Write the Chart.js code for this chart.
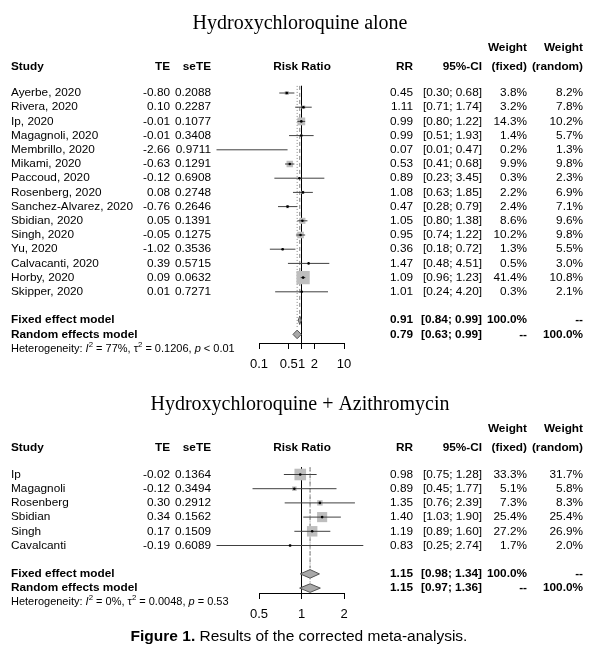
<!DOCTYPE html>
<html><head><meta charset="utf-8">
<script src="https://cdn.jsdelivr.net/npm/chart.js@4"></script>
<style>
html,body{margin:0;padding:0;background:#fff;overflow:hidden;width:604px;height:653px}
canvas{position:absolute;left:0}
#c1{top:0}#c2{top:385px}
</style></head>
<body>
<canvas id="c1" width="604" height="385"></canvas>
<canvas id="c2" width="604" height="268"></canvas>
<script>
// ---------- Panel 1: Hydroxychloroquine alone ----------
const title1 = "Hydroxychloroquine alone";
const study1 = ["Ayerbe, 2020","Rivera, 2020","Ip, 2020","Magagnoli, 2020","Membrillo, 2020","Mikami, 2020","Paccoud, 2020","Rosenberg, 2020","Sanchez-Alvarez, 2020","Sbidian, 2020","Singh, 2020","Yu, 2020","Calvacanti, 2020","Horby, 2020","Skipper, 2020"];
const te1 = [-0.80,0.10,-0.01,-0.01,-2.66,-0.63,-0.12,0.08,-0.76,0.05,-0.05,-1.02,0.39,0.09,0.01];
const sete1 = [0.2088,0.2287,0.1077,0.3408,0.9711,0.1291,0.6908,0.2748,0.2646,0.1391,0.1275,0.3536,0.5715,0.0632,0.7271];
const rr1 = [0.45,1.11,0.99,0.99,0.07,0.53,0.89,1.08,0.47,1.05,0.95,0.36,1.47,1.09,1.01];
const lo1 = [0.30,0.71,0.80,0.51,0.01,0.41,0.23,0.63,0.28,0.80,0.74,0.18,0.48,0.96,0.24];
const hi1 = [0.68,1.74,1.22,1.93,0.47,0.68,3.45,1.85,0.79,1.38,1.22,0.72,4.51,1.23,4.20];
const wf1 = [3.8,3.2,14.3,1.4,0.2,9.9,0.3,2.2,2.4,8.6,10.2,1.3,0.5,41.4,0.3];
const wr1 = [8.2,7.8,10.2,5.7,1.3,9.8,2.3,6.9,7.1,9.6,9.8,5.5,3.0,10.8,2.1];
const fixed1 = [0.91,0.84,0.99];   // RR, lower, upper
const random1 = [0.79,0.63,0.99];
const het1 = {I2:"77%", tau2:"0.1206", p:"< 0.01"};
const ticks1 = [0.1,0.5,1,2,10];
const tickLabels1 = ["0.1","0.5","1","2","10"];

// ---------- Panel 2: Hydroxychloroquine + Azithromycin ----------
const title2 = "Hydroxychloroquine + Azithromycin";
const study2 = ["Ip","Magagnoli","Rosenberg","Sbidian","Singh","Cavalcanti"];
const te2 = [-0.02,-0.12,0.30,0.34,0.17,-0.19];
const sete2 = [0.1364,0.3494,0.2912,0.1562,0.1509,0.6089];
const rr2 = [0.98,0.89,1.35,1.40,1.19,0.83];
const lo2 = [0.75,0.45,0.76,1.03,0.89,0.25];
const hi2 = [1.28,1.77,2.39,1.90,1.60,2.74];
const wf2 = [33.3,5.1,7.3,25.4,27.2,1.7];
const wr2 = [31.7,5.8,8.3,25.4,26.9,2.0];
const fixed2 = [1.15,0.98,1.34];
const random2 = [1.15,0.97,1.36];
const het2 = {I2:"0%", tau2:"0.0048", p:"= 0.53"};
const ticks2 = [0.5,1,2];
const tickLabels2 = ["0.5","1","2"];

const captionBold = "Figure 1.";
const captionText = " Results of the corrected meta-analysis.";

// ---------- drawing ----------
const SANS = '"Liberation Sans", Arial, Helvetica, sans-serif';
const SERIF = '"Liberation Serif", "Times New Roman", serif';
const FS = 11.8;
const COL = {study:11, te:170, sete:211, rr:413, ci:482, wf:527, wr:583, plot:302};
const AXH = 31;

function t(ctx, s, x, y, align, font){
  ctx.font = font; ctx.textAlign = align; ctx.textBaseline = 'middle';
  ctx.fillStyle = '#000'; ctx.fillText(s, x, y);
}

function makePanel(id, P){
  const n = P.study.length;
  const wmax = Math.max(...P.wf);
  const ds = [];
  ds.push({data:P.rr.map((r,i)=>({x:r,y:i})), pointStyle:'circle', pointRadius:1.3,
    backgroundColor:'#000', borderWidth:0, order:0, clip:false});
  P.lo.forEach((l,i)=>ds.push({data:[{x:l,y:i},{x:P.hi[i],y:i}], showLine:true,
    borderColor:'#404040', borderWidth:1, pointRadius:0, order:1, clip:false}));
  ds.push({data:P.rr.map((r,i)=>({x:r,y:i})), pointStyle:'rect',
    pointRadius:P.wf.map(w=>Math.max(0.6, P.sq*Math.sqrt(w/wmax))),
    backgroundColor:'#BEBEBE', borderWidth:0, order:2, clip:false});
  ds.push({data:[{x:1,y:-0.5},{x:1,y:P.yMax}], showLine:true, borderColor:'#000',
    borderWidth:1, pointRadius:0, order:3, clip:false});
  ds.push({data:[{x:P.fixed[0],y:-0.5},{x:P.fixed[0],y:n+0.6}], showLine:true, borderColor:'#808080',
    borderWidth:1, borderDash:[4,3], pointRadius:0, order:4, clip:false});
  ds.push({data:[{x:P.random[0],y:-0.5},{x:P.random[0],y:n+1.6}], showLine:true, borderColor:'#808080',
    borderWidth:1, borderDash:[1,2], pointRadius:0, order:5, clip:false});

  const tablePlugin = {
    id:'table'+id,
    afterDatasetsDraw(chart){
      const ctx = chart.ctx, xs = chart.scales.x, ys = chart.scales.y;
      [[P.fixed,n+1],[P.random,n+2]].forEach(([s,r])=>{
        const xl = xs.getPixelForValue(s[1]), xm = xs.getPixelForValue(s[0]), xh = xs.getPixelForValue(s[2]);
        const y = ys.getPixelForValue(r);
        ctx.save(); ctx.beginPath();
        ctx.moveTo(xl,y); ctx.lineTo(xm,y-4.3); ctx.lineTo(xh,y); ctx.lineTo(xm,y+4.3); ctx.closePath();
        ctx.fillStyle='#A9A9A9'; ctx.fill(); ctx.strokeStyle='#555'; ctx.lineWidth=1; ctx.stroke();
        ctx.restore();
      });
    },
    afterDraw(chart){
      const ctx = chart.ctx, ys = chart.scales.y;
      const N = FS+'px '+SANS, B = 'bold '+FS+'px '+SANS;
      ctx.save();
      t(ctx, P.title, 300, P.titleY, 'center', '20px '+SERIF);
      const yw = ys.getPixelForValue(-3.2), yh = ys.getPixelForValue(-1.85);
      t(ctx,'Weight',COL.wf,yw,'right',B); t(ctx,'Weight',COL.wr,yw,'right',B);
      t(ctx,'Study',COL.study,yh,'left',B); t(ctx,'TE',COL.te,yh,'right',B);
      t(ctx,'seTE',COL.sete,yh,'right',B); t(ctx,'Risk Ratio',COL.plot,yh,'center',B);
      t(ctx,'RR',COL.rr,yh,'right',B); t(ctx,'95%-CI',COL.ci,yh,'right',B);
      t(ctx,'(fixed)',COL.wf,yh,'right',B); t(ctx,'(random)',COL.wr,yh,'right',B);
      for(let i=0;i<n;i++){
        const y = ys.getPixelForValue(i);
        t(ctx,P.study[i],COL.study,y,'left',N);
        t(ctx,P.te[i].toFixed(2),COL.te,y,'right',N);
        t(ctx,P.sete[i].toFixed(4),COL.sete,y,'right',N);
        t(ctx,P.rr[i].toFixed(2),COL.rr,y,'right',N);
        t(ctx,'['+P.lo[i].toFixed(2)+'; '+P.hi[i].toFixed(2)+']',COL.ci,y,'right',N);
        t(ctx,P.wf[i].toFixed(1)+'%',COL.wf,y,'right',N);
        t(ctx,P.wr[i].toFixed(1)+'%',COL.wr,y,'right',N);
      }
      [['Fixed effect model',P.fixed,n+1,'100.0%','--'],['Random effects model',P.random,n+2,'--','100.0%']].forEach(([lab,s,r,a,b])=>{
        const y = ys.getPixelForValue(r);
        t(ctx,lab,COL.study,y,'left',B);
        t(ctx,s[0].toFixed(2),COL.rr,y,'right',B);
        t(ctx,'['+s[1].toFixed(2)+'; '+s[2].toFixed(2)+']',COL.ci,y,'right',B);
        t(ctx,a,COL.wf,y,'right',B); t(ctx,b,COL.wr,y,'right',B);
      });
      // heterogeneity
      const yH = ys.getPixelForValue(n+3.0);
      const hs = 11, sup = 7.8;
      const parts = [
        ['Heterogeneity: ', hs+'px '+SANS, 0],
        ['I', 'italic '+hs+'px '+SANS, 0], ['2', sup+'px '+SANS, -4],
        [' = '+P.het.I2+', ', hs+'px '+SANS, 0],
        ['\u03C4', hs+'px '+SANS, 0], ['2', sup+'px '+SANS, -4],
        [' = '+P.het.tau2+', ', hs+'px '+SANS, 0],
        ['p', 'italic '+hs+'px '+SANS, 0], [' '+P.het.p, hs+'px '+SANS, 0]
      ];
      let x = COL.study;
      parts.forEach(([s,f,dy])=>{
        ctx.font=f; ctx.textAlign='left'; ctx.textBaseline='middle'; ctx.fillStyle='#000';
        ctx.fillText(s,x,yH+dy); x += ctx.measureText(s).width;
      });
      if (P.caption){
        const fb = 'bold 15.5px '+SANS, fr = '15.5px '+SANS;
        ctx.font = fb; const w1 = ctx.measureText(captionBold).width;
        ctx.font = fr; const w2 = ctx.measureText(captionText).width;
        const x0 = 299 - (w1+w2)/2;
        t(ctx,captionBold,x0,P.captionY,'left',fb);
        t(ctx,captionText,x0+w1,P.captionY,'left',fr);
      }
      ctx.restore();
    }
  };

  return new Chart(document.getElementById(id), {
    type:'scatter',
    data:{datasets:ds},
    options:{
      responsive:false, animation:false, events:[],
      layout:{padding:{left:259, right:260, top:P.padTop, bottom:P.padBottom}},
      plugins:{legend:{display:false}, tooltip:{enabled:false}},
      scales:{
        x:{type:'logarithmic', position:'bottom', min:P.ticks[0], max:P.ticks[P.ticks.length-1],
          afterBuildTicks:(ax)=>{ ax.ticks = P.ticks.map(v=>({value:v})); },
          afterFit:(ax)=>{ ax.height = AXH; },
          ticks:{autoSkip:false, maxRotation:0, padding:8, color:'#000',
            font:{family:SANS, size:13},
            callback:(v)=>{ const k = P.ticks.indexOf(v); return k>=0 ? P.tickLabels[k] : ''; }},
          grid:{display:true, drawOnChartArea:false, drawTicks:true, tickLength:6, color:'#000', lineWidth:1},
          border:{display:true, color:'#000', width:1}},
        y:{type:'linear', display:false, reverse:true, min:P.yMin, max:P.yMax}
      }
    },
    plugins:[tablePlugin]
  });
}

// row v -> pixel: top panel 93 + 14.2 v ; chart area 40..343
makePanel('c1', {title:title1, titleY:24, study:study1, te:te1, sete:sete1, rr:rr1, lo:lo1, hi:hi1,
  wf:wf1, wr:wr1, fixed:fixed1, random:random1, het:het1, ticks:ticks1, tickLabels:tickLabels1,
  sq:9.4, padTop:40, padBottom:385-343-AXH, yMin:(40-93)/14.2, yMax:(343-93)/14.2});
// bottom panel (canvas offset 385): 89.5 + 14.2 v ; chart area 35..208
makePanel('c2', {title:title2, titleY:20, study:study2, te:te2, sete:sete2, rr:rr2, lo:lo2, hi:hi2,
  wf:wf2, wr:wr2, fixed:fixed2, random:random2, het:het2, ticks:ticks2, tickLabels:tickLabels2,
  sq:8.2, padTop:35, padBottom:268-208-AXH, yMin:(35-89.5)/14.2, yMax:(208-89.5)/14.2,
  caption:true, captionY:252});
</script>
</body></html>
